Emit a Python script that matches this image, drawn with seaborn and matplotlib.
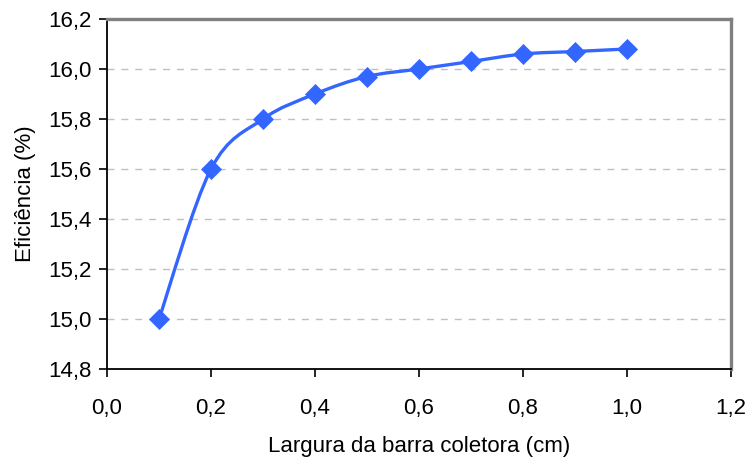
import numpy as np
import pandas as pd
import matplotlib
matplotlib.use("Agg")
import matplotlib.pyplot as plt
from matplotlib.path import Path
from matplotlib.patches import PathPatch
from matplotlib.ticker import FuncFormatter
import seaborn as sns

largura = [0.1, 0.2, 0.3, 0.4, 0.5, 0.6, 0.7, 0.8, 0.9, 1.0]
eficiencia = [15.0, 15.6, 15.8, 15.9, 15.97, 16.0, 16.03, 16.06, 16.07, 16.08]
xticks = [0.0, 0.2, 0.4, 0.6, 0.8, 1.0, 1.2]
yticks = [14.8, 15.0, 15.2, 15.4, 15.6, 15.8, 16.0, 16.2]
xlabel = "Largura da barra coletora (cm)"
ylabel = "Eficiência (%)"

sns.set_theme(style="white")
plt.rcParams['font.family'] = ['Liberation Sans', 'DejaVu Sans']

df = pd.DataFrame({"x": largura, "y": eficiencia})
color = "#3366FF"

fig = plt.figure(figsize=(7.48, 4.63), dpi=100)
ax = fig.add_axes([107/748, 1-369/463, (731-107)/748, (369-19)/463])

# Smoothed line (Excel-style Bezier through the data points)
xs, ys = np.array(largura), np.array(eficiencia)
verts = [(xs[0], ys[0])]
codes = [Path.MOVETO]
n = len(xs)
for i in range(n - 1):
    p0 = (xs[i-1], ys[i-1]) if i > 0 else (xs[i], ys[i])
    p1 = (xs[i], ys[i])
    p2 = (xs[i+1], ys[i+1])
    p3 = (xs[i+2], ys[i+2]) if i + 2 < n else (xs[i+1], ys[i+1])
    c1 = (p1[0] + (p2[0]-p0[0])/6, p1[1] + (p2[1]-p0[1])/6)
    c2 = (p2[0] - (p3[0]-p1[0])/6, p2[1] - (p3[1]-p1[1])/6)
    verts += [c1, c2, p2]
    codes += [Path.CURVE4]*3
ax.add_patch(PathPatch(Path(verts, codes), facecolor='none', edgecolor=color, lw=2.4, zorder=3))

sns.scatterplot(data=df, x="x", y="y", ax=ax, marker="D", s=115, color=color,
                edgecolor=color, linewidth=0, zorder=4, legend=False)

ax.set_xlim(0, 1.2)
ax.set_ylim(14.8, 16.2)
ax.set_xticks(xticks)
ax.set_yticks(yticks)
ax.xaxis.set_major_formatter(FuncFormatter(lambda v, p: f"{v:.1f}".replace(".", ",")))
ax.yaxis.set_major_formatter(FuncFormatter(lambda v, p: f"{v:.1f}".replace(".", ",")))
ax.tick_params(axis='both', which='major', direction='out', length=6, width=1.2,
               color='black', labelsize=16, labelcolor='black', bottom=True, left=True)
ax.tick_params(axis='x', pad=15)
ax.tick_params(axis='y', pad=5)

for yv in yticks[1:-1]:
    ax.axhline(yv, color='#c0c0c0', lw=1, ls=(0, (5, 5)), zorder=1)

for s in ['left', 'bottom']:
    ax.spines[s].set_color('black')
    ax.spines[s].set_linewidth(1.3)
for s in ['top', 'right']:
    ax.spines[s].set_color('#808080')
    ax.spines[s].set_linewidth(2.4)

ax.set_xlabel(xlabel, fontsize=16, color='black', labelpad=12)
ax.set_ylabel(ylabel, fontsize=16, color='black', labelpad=9)

fig.savefig("out.png", dpi=100)
